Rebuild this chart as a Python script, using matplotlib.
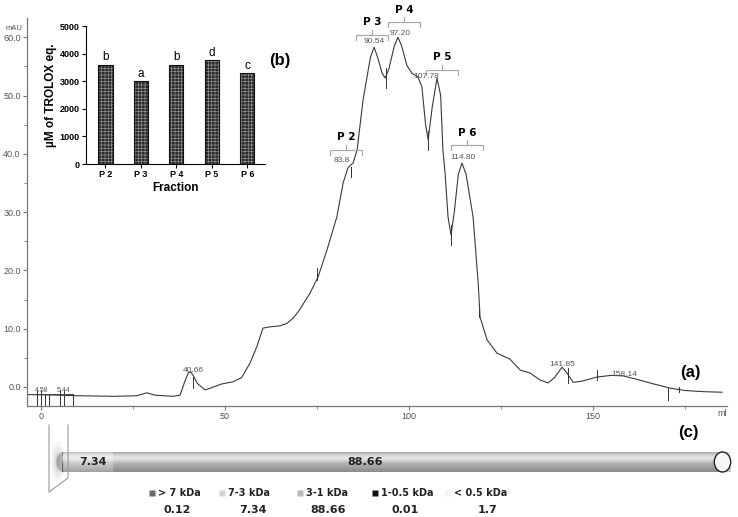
import numpy as np
import matplotlib as mpl
mpl.use("Agg")
import matplotlib.pyplot as plt
from matplotlib.patches import Ellipse

# ---------------- data ----------------
# (a) gel filtration trace: elution volume (ml) vs absorbance (mAU)
volume = [-3.8, 5, 10, 20, 26, 28.8, 31, 36, 37.8, 39.0, 40.0, 40.7, 41.5, 42.5,
          44.6, 46, 49, 52.2, 54.5, 56.8, 58.7, 60.3, 62, 65, 66.8, 68.5, 70,
          73.1, 75.3, 77.7, 80.4, 82.1, 83.4, 84.0, 84.8, 85.9, 87.5, 89.5, 90.5,
          91.5, 92.7, 93.5, 94.5, 96.0, 97.0, 98.0, 99.4, 100.8, 102.4, 103.5,
          104.5, 105.2, 106.3, 107.6, 108.6, 109.2, 109.8, 110.6, 111.4, 112.3,
          113.4, 114.4, 115.5, 117.4, 118.8, 119.3, 121.2, 123.9, 127.4, 130.2,
          132.9, 135.6, 137.8, 139.5, 141.6, 142.8, 144.6, 147, 151, 155, 158.2,
          162, 166, 171, 175, 180, 185]
absorbance = [-1.3, -1.4, -1.5, -1.6, -1.5, -1.0, -1.4, -1.6, -1.4, 0.8, 2.4, 2.6,
              1.8, 0.6, -0.5, -0.2, 0.5, 0.9, 1.6, 4.1, 7.0, 10.1, 10.3, 10.5,
              10.9, 11.8, 13.0, 16.1, 18.9, 23.5, 29.2, 35.0, 37.6, 38.0, 38.4,
              40.7, 49.2, 56.5, 58.3, 56.5, 53.8, 53.0, 54.5, 58.5, 60.0, 58.5,
              55.2, 53.8, 53.2, 51.5, 45.0, 42.4, 48.0, 53.0, 50.0, 40.7, 36.7,
              29.2, 26.1, 30.0, 36.5, 38.4, 36.5, 29.2, 17.8, 12.0, 8.1, 5.8, 4.8,
              2.9, 2.4, 1.2, 0.7, 1.6, 3.4, 2.5, 0.8, 1.0, 1.7, 2.0, 1.9, 1.3, 0.6,
              -0.2, -0.6, -0.8, -0.9]

# integration markers on the trace
marker_ml = [-1.1, 0.0, 1.1, 2.2, 5.2, 6.3, 8.7, 41.3, 75.0, 84.2, 93.7, 105.2,
             111.4, 119.0, 143.2, 151.1, 170.4, 173.4]
marker_lo = [-3.26, -3.26, -3.26, -3.26, -3.26, -3.26, -3.26, -0.2, 18.4, 36.0,
             51.3, 40.6, 24.4, 12.0, 0.7, 1.2, -2.2, -0.9]
marker_hi = [-0.6, -0.6, -1.2, -1.2, -0.6, -0.6, -1.2, 1.7, 20.4, 37.7, 54.7,
             44.0, 27.8, 13.2, 3.3, 2.9, -0.2, 0.0]

peak_text = ["40.66", "83.8", "90.54", "97.20", "107.78", "114.80", "141.85", "158.14"]
peak_lab_x = [41.3, 81.8, 90.5, 97.6, 104.6, 114.7, 141.6, 158.4]
peak_lab_y = [2.9, 38.9, 59.2, 60.7, 53.3, 39.3, 3.8, 2.2]

pool_names = ["P 2", "P 3", "P 4", "P 5", "P 6"]
pool_ml = [82.9, 90.0, 98.6, 109.0, 115.8]
pool_mau = [40.7, 60.4, 62.6, 54.4, 41.5]

# (b) antioxidant activity of the pooled fractions
fractions = ["P 2", "P 3", "P 4", "P 5", "P 6"]
trolox = [3600, 3000, 3600, 3750, 3300]
letters = ["b", "a", "b", "d", "c"]

# (c) molecular weight distribution (%)
mw_classes = ["> 7 kDa", "7-3 kDa", "3-1 kDa", "1-0.5 kDa", "< 0.5 kDa"]
mw_percent = [0.12, 7.34, 88.66, 0.01, 1.7]
mw_labels = ["0.12", "7.34", "88.66", "0.01", "1.7"]
mw_colors = ["#6a6a6a", "#d3d3d3", "#b8b8b8", "#111111", "#f0f0f0"]

# ---------------- figure ----------------
W, H = 738, 517
fig = plt.figure(figsize=(W / 100, H / 100), dpi=100)
narrow = "Liberation Sans"
grey = "#555555"

ax = fig.add_axes([27 / W, 1 - 406 / H, 700 / W, 388 / H])
ax.plot(volume, absorbance, color="#3a3a3a", lw=0.8)
for x, lo, hi in zip(marker_ml, marker_lo, marker_hi):
    ax.plot([x, x], [lo, hi], color="#333333", lw=0.7)
ax.hlines(-1.2, -3.8, 8.7, color="#444444", lw=0.7)
ax.text(0.2, -0.9, "4.58", fontsize=5, color=grey, family=narrow, ha="center")
ax.text(6.0, -0.9, "5.44", fontsize=5, color=grey, family=narrow, ha="center")

for t, x, y in zip(peak_text, peak_lab_x, peak_lab_y):
    ax.text(x, y, t, fontsize=6, color=grey, family=narrow, ha="center", va="center")

hw, arm = 4.3, 0.9
for name, cx, cy in zip(pool_names, pool_ml, pool_mau):
    ax.plot([cx - hw, cx - hw, cx + hw, cx + hw], [cy - arm, cy, cy, cy - arm],
            color="#aaaaaa", lw=0.9, clip_on=False)
    ax.plot([cx, cx], [cy, cy + 0.8], color="#aaaaaa", lw=0.9, clip_on=False)
    ax.text(cx, cy + 1.3, name, fontsize=7.5, fontweight="bold", ha="center",
            va="bottom", clip_on=False)

ax.set_xlim(-3.8, 186.4)
ax.set_ylim(-3.26, 63.3)
ax.set_xticks([0, 50, 100, 150])
ax.set_xticks([25, 75, 125, 175], minor=True)
ax.set_yticks(np.arange(0, 61, 10))
ax.set_yticks(np.arange(5, 61, 10), minor=True)
ax.set_yticklabels([f"{v:.1f}" for v in np.arange(0, 61, 10)])
for s in ["top", "right"]:
    ax.spines[s].set_visible(False)
for s in ["left", "bottom"]:
    ax.spines[s].set_color("#777777")
    ax.spines[s].set_linewidth(0.9)
ax.tick_params(which="both", color="#777777", labelcolor=grey, labelsize=6.5)
ax.tick_params(which="major", length=3, pad=1.5)
ax.tick_params(which="minor", length=2)
for lab in ax.get_xticklabels() + ax.get_yticklabels():
    lab.set_family(narrow)
fig.text(14 / W, 1 - 28 / H, "mAU", fontsize=5.5, color=grey, family=narrow,
         ha="center", va="center")
fig.text(722 / W, 1 - 414 / H, "ml", fontsize=6.5, color=grey, family=narrow,
         ha="center", va="center")

# inset (b)
axb = fig.add_axes([86 / W, 1 - 164 / H, 179 / W, 138 / H])
axb.patch.set_alpha(0)
mpl.rcParams["hatch.linewidth"] = 0.5
xb = np.arange(len(fractions))
axb.bar(xb, trolox, width=0.4, color="#2b2b2b", edgecolor="#8c8c8c",
        hatch="+++++", lw=0)
axb.bar(xb, trolox, width=0.4, fill=False, edgecolor="#111111", lw=0.8)
for x, v, l in zip(xb, trolox, letters):
    axb.text(x, v + 50, l, fontsize=8.5, ha="center", va="bottom", family=narrow)
axb.set_xlim(-0.55, 4.5)
axb.set_ylim(0, 5000)
axb.set_xticks(xb)
axb.set_xticklabels(fractions)
axb.set_yticks(np.arange(0, 5001, 1000))
for s in ["top", "right"]:
    axb.spines[s].set_visible(False)
axb.tick_params(labelsize=6.5, length=3, width=0.8, pad=1.5)
for lab in axb.get_xticklabels() + axb.get_yticklabels():
    lab.set_fontweight("bold")
    lab.set_family(narrow)
axb.set_xlabel("Fraction", fontsize=8.5, fontweight="bold", family=narrow, labelpad=2)
axb.set_ylabel("µM of TROLOX eq.", fontsize=8.5, fontweight="bold", family=narrow,
               labelpad=2)

# (c) molecular weight tube
axc = fig.add_axes([55 / W, 1 - 472 / H, 675 / W, 20 / H])
total = sum(mw_percent)
left = np.concatenate([[0], np.cumsum(mw_percent)[:-1]])
axc.barh(0, mw_percent, left=left, height=1.0, color=mw_colors, lw=0, zorder=2)
axc.add_patch(Ellipse((0.2, 0), 2.0, 1.0, facecolor="#c8c8c8", edgecolor="none", zorder=1))
yy = np.linspace(0, 1, 60)
shade = np.zeros((60, 1, 4))
hi_a = 0.65 * np.exp(-((yy - 0.3) / 0.2) ** 2)
dk_a = 0.25 * yy ** 2.5 + 0.12 * np.exp(-(yy / 0.06) ** 2)
shade[:, 0, :3] = (hi_a / (hi_a + dk_a + 1e-9))[:, None]
shade[:, 0, 3] = np.clip(hi_a + dk_a, 0, 1)
axc.imshow(shade, extent=(0, total, -0.5, 0.5), aspect="auto", zorder=3,
           interpolation="bilinear")
axc.add_patch(Ellipse((total - 1.1, 0), 2.4, 1.0, facecolor="#f6f6f6",
                      edgecolor="#222222", lw=1.0, zorder=5, clip_on=False))
axc.text(4.6, 0, mw_labels[1], fontsize=8, fontweight="bold",
         ha="center", va="center", zorder=6, color="#222222")
axc.text(44.4, 0, mw_labels[2], fontsize=8, fontweight="bold",
         ha="center", va="center", zorder=6, color="#222222")
axc.set_xlim(-1.0, total)
axc.set_ylim(-0.5, 0.5)
axc.axis("off")

# overlay in pixel units for the plane and the legend
axo = fig.add_axes([0, 0, 1, 1])
axo.set_xlim(0, W)
axo.set_ylim(H, 0)
axo.axis("off")
for r, a in [(16, 0.05), (12, 0.07), (8, 0.09), (5, 0.1)]:
    axo.add_patch(Ellipse((58, 462), r * 0.9, r * 2.6, facecolor="#555555",
                          edgecolor="none", alpha=a))
axo.plot([49, 49, 68, 68], [425, 492, 478, 425], color="#999999", lw=0.8)

sq_x = [152, 222, 300, 375, 448]
val_x = [177, 253, 328, 405, 488]
for c, name, lab, sx, vx in zip(mw_colors, mw_classes, mw_labels, sq_x, val_x):
    axo.plot(sx, 493, marker="s", ms=5, color=c, mec="none")
    axo.text(sx + 6, 493, name, fontsize=7, fontweight="bold", color="#222222",
             va="center", ha="left")
    axo.text(vx, 510, lab, fontsize=8, fontweight="bold", color="#222222",
             va="center", ha="center")

fig.text(690 / W, 1 - 372 / H, "(a)", fontsize=12, fontweight="bold",
         family="Liberation Sans", ha="center", va="center")
fig.text(280 / W, 1 - 60 / H, "(b)", fontsize=12, fontweight="bold",
         family="Liberation Sans", ha="center", va="center")
fig.text(688 / W, 1 - 432 / H, "(c)", fontsize=12, fontweight="bold",
         family="Liberation Sans", ha="center", va="center")

fig.savefig("out.png", dpi=100)
